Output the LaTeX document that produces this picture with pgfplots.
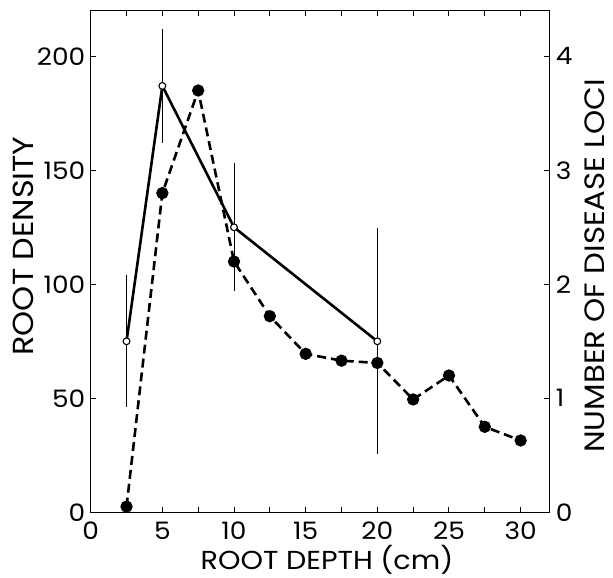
\documentclass[border=0pt]{standalone}
\usepackage{pgfplots}
\pgfplotsset{compat=1.18}
\usepackage{fontspec}
\setmainfont{Poppins}[FakeStretch=1.1]
\begin{document}
\begin{tikzpicture}
\pgfplotsset{
  common/.style={
    scale only axis, width=458.6pt, height=501.6pt,
    xmin=0, xmax=32,
    tick align=inside,
    major tick length=5pt, minor tick length=5pt,
    every tick/.style={black, line width=1pt},
    axis line style={line width=1.3pt},
    tick label style={font=\fontsize{24}{24}\selectfont},
    /pgf/number format/assume math mode=true,
  }
}
\begin{axis}[common,
  ymin=0, ymax=220,
  xtick={0,5,...,30}, minor xtick={2.5,7.5,...,27.5},
  xtick pos=both,
  ytick={0,50,100,150,200}, ytick pos=left,
  xticklabel style={yshift=-6pt},
  yticklabel style={xshift=-2pt},
  xlabel={ROOT DEPTH (cm)},
  xlabel style={font=\fontsize{26}{26}\selectfont, at={(axis description cs:0.5,0)}, anchor=base, yshift=-57pt, xshift=7pt},
  ylabel={ROOT DENSITY},
  ylabel style={font=\fontsize{29}{29}\selectfont, at={(axis description cs:0,0.531)}, anchor=center, yshift=67.7pt},
]
\addplot[black, line width=2.6pt, mark=*, mark size=3.4pt,
  mark options={fill=white, draw=black, line width=1.1pt},
  error bars/.cd, y dir=both, y explicit, error mark=none,
  error bar style={line width=0.9pt, black}]
coordinates {
  (2.5,75) +- (0,29)
  (5,187) +- (0,25)
  (10,125) +- (0,28)
  (20,75) +- (0,49.5)
};
\end{axis}
\begin{axis}[common,
  ymin=0, ymax=4.4,
  axis x line=none,
  axis y line*=right,
  ytick={0,1,2,3,4}, ytick pos=right,
  yticklabel style={xshift=3pt},
  ylabel={NUMBER OF DISEASE LOCI},
  ylabel style={font=\fontsize{28}{28}\selectfont, at={(axis description cs:1,0.491)}, anchor=center, yshift=-45pt},
]
\addplot[black, line width=2.6pt, dash pattern=on 9pt off 5pt, mark=*, mark size=4.8pt,
  mark options={solid, fill=black}]
coordinates {
  (2.5,0.05) (5,2.8) (7.5,3.7) (10,2.2) (12.5,1.72) (15,1.39)
  (17.5,1.33) (20,1.31) (22.5,0.99) (25,1.2) (27.5,0.75) (30,0.63)
};
\end{axis}
\pgfresetboundingbox
\path[use as bounding box] ([shift={(-90.7pt,-65.7pt)}]current axis.south west) rectangle ([shift={(63.7pt,10.7pt)}]current axis.north east);
\end{tikzpicture}
\end{document}
